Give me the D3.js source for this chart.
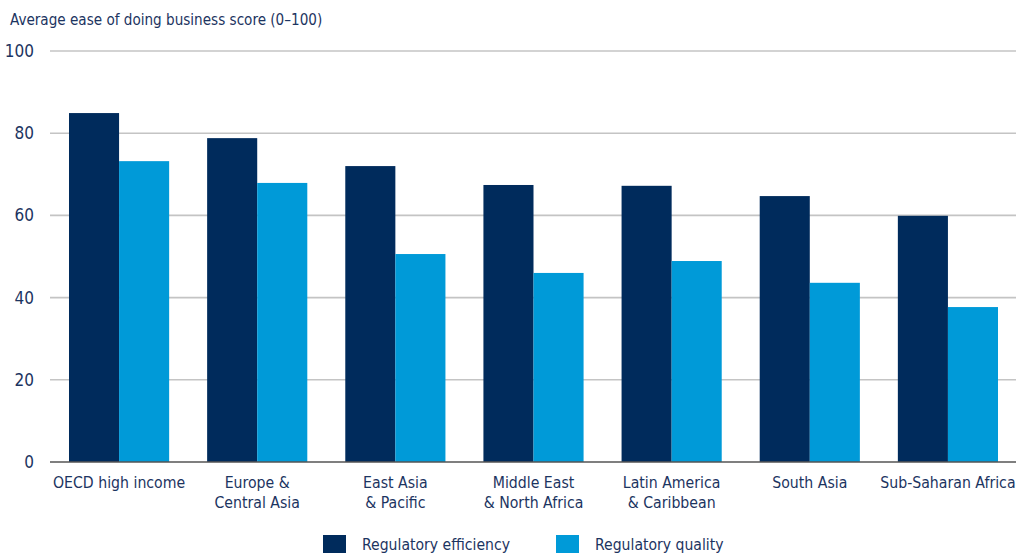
<!DOCTYPE html>
<html>
<head>
<meta charset="utf-8">
<script src="https://cdn.jsdelivr.net/npm/d3@7"></script>
<style>
  body { margin: 0; background: #fff; }
  text { font-family: "Liberation Sans Narrow", "DejaVu Sans Condensed", "Open Sans", sans-serif; fill: #1c3461; }
</style>
</head>
<body>
<script>
const regions = [
  ['OECD high income'],
  ['Europe &', 'Central Asia'],
  ['East Asia', '& Pacific'],
  ['Middle East', '& North Africa'],
  ['Latin America', '& Caribbean'],
  ['South Asia'],
  ['Sub-Saharan Africa']
]
const efficiency = [84.9, 78.8, 72.0, 67.4, 67.2, 64.7, 59.9]
const quality = [73.2, 67.9, 50.6, 46.0, 48.9, 43.6, 37.7]
const yTicks = [0, 20, 40, 60, 80, 100]
const seriesNames = ['Regulatory efficiency', 'Regulatory quality']
const colors = ['#002b5c', '#009ad8']

const W = 1016, H = 553
const svg = d3.select('body').append('svg').attr('width', W).attr('height', H)

const x = d3.scaleBand()
  .domain(d3.range(regions.length))
  .range([50, 1017])
  .paddingInner(0.275)
  .paddingOuter(0.1375)
const xs = d3.scaleBand().domain([0, 1]).range([0, x.bandwidth()])
const y = d3.scaleLinear().domain([0, 100]).range([462, 51])

// title
svg.append('text')
  .attr('x', 10).attr('y', 25)
  .style('font-size', '15.1px')
  .text('Average ease of doing business score (0–100)')

// gridlines
const grid = svg.append('g')
grid.selectAll('line')
  .data(yTicks.filter(d => d > 0))
  .enter().append('line')
  .attr('x1', 50).attr('x2', W)
  .attr('y1', d => y(d)).attr('y2', d => y(d))
  .attr('stroke', '#c4c4c4').attr('stroke-width', 1.6)

// y labels
svg.append('g').selectAll('text')
  .data(yTicks)
  .enter().append('text')
  .attr('x', 34).attr('y', d => y(d) + 6)
  .attr('text-anchor', 'end')
  .style('font-size', '17px')
  .text(d => d)

// bars
const groups = svg.append('g').selectAll('g')
  .data(regions.map((r, i) => [efficiency[i], quality[i]]))
  .enter().append('g')
  .attr('transform', (d, i) => `translate(${x(i)},0)`)
groups.selectAll('rect')
  .data(d => d)
  .enter().append('rect')
  .attr('x', (d, j) => xs(j))
  .attr('width', xs.bandwidth())
  .attr('y', d => y(d))
  .attr('height', d => y(0) - y(d))
  .attr('fill', (d, j) => colors[j])

// baseline
svg.append('line')
  .attr('x1', 50).attr('x2', W)
  .attr('y1', y(0)).attr('y2', y(0))
  .attr('stroke', '#555').attr('stroke-width', 1.5)

// category labels
const cats = svg.append('g').selectAll('text')
  .data(regions)
  .enter().append('text')
  .attr('x', (d, i) => x(i) + x.bandwidth() / 2)
  .attr('y', 488)
  .attr('text-anchor', 'middle')
  .style('font-size', '15.7px')
cats.selectAll('tspan')
  .data(d => d)
  .enter().append('tspan')
  .attr('x', function() { return this.parentNode.getAttribute('x') })
  .attr('dy', (d, k) => k ? 20 : 0)
  .text(d => d)

// legend
const legendX = [323, 556]
const legend = svg.append('g').selectAll('g')
  .data(seriesNames)
  .enter().append('g')
  .attr('transform', (d, i) => `translate(${legendX[i]},535)`)
legend.append('rect')
  .attr('width', 23).attr('height', 18)
  .attr('fill', (d, i) => colors[i])
legend.append('text')
  .attr('x', 39).attr('y', 15)
  .style('font-size', '15.6px')
  .text(d => d)
</script>
</body>
</html>
